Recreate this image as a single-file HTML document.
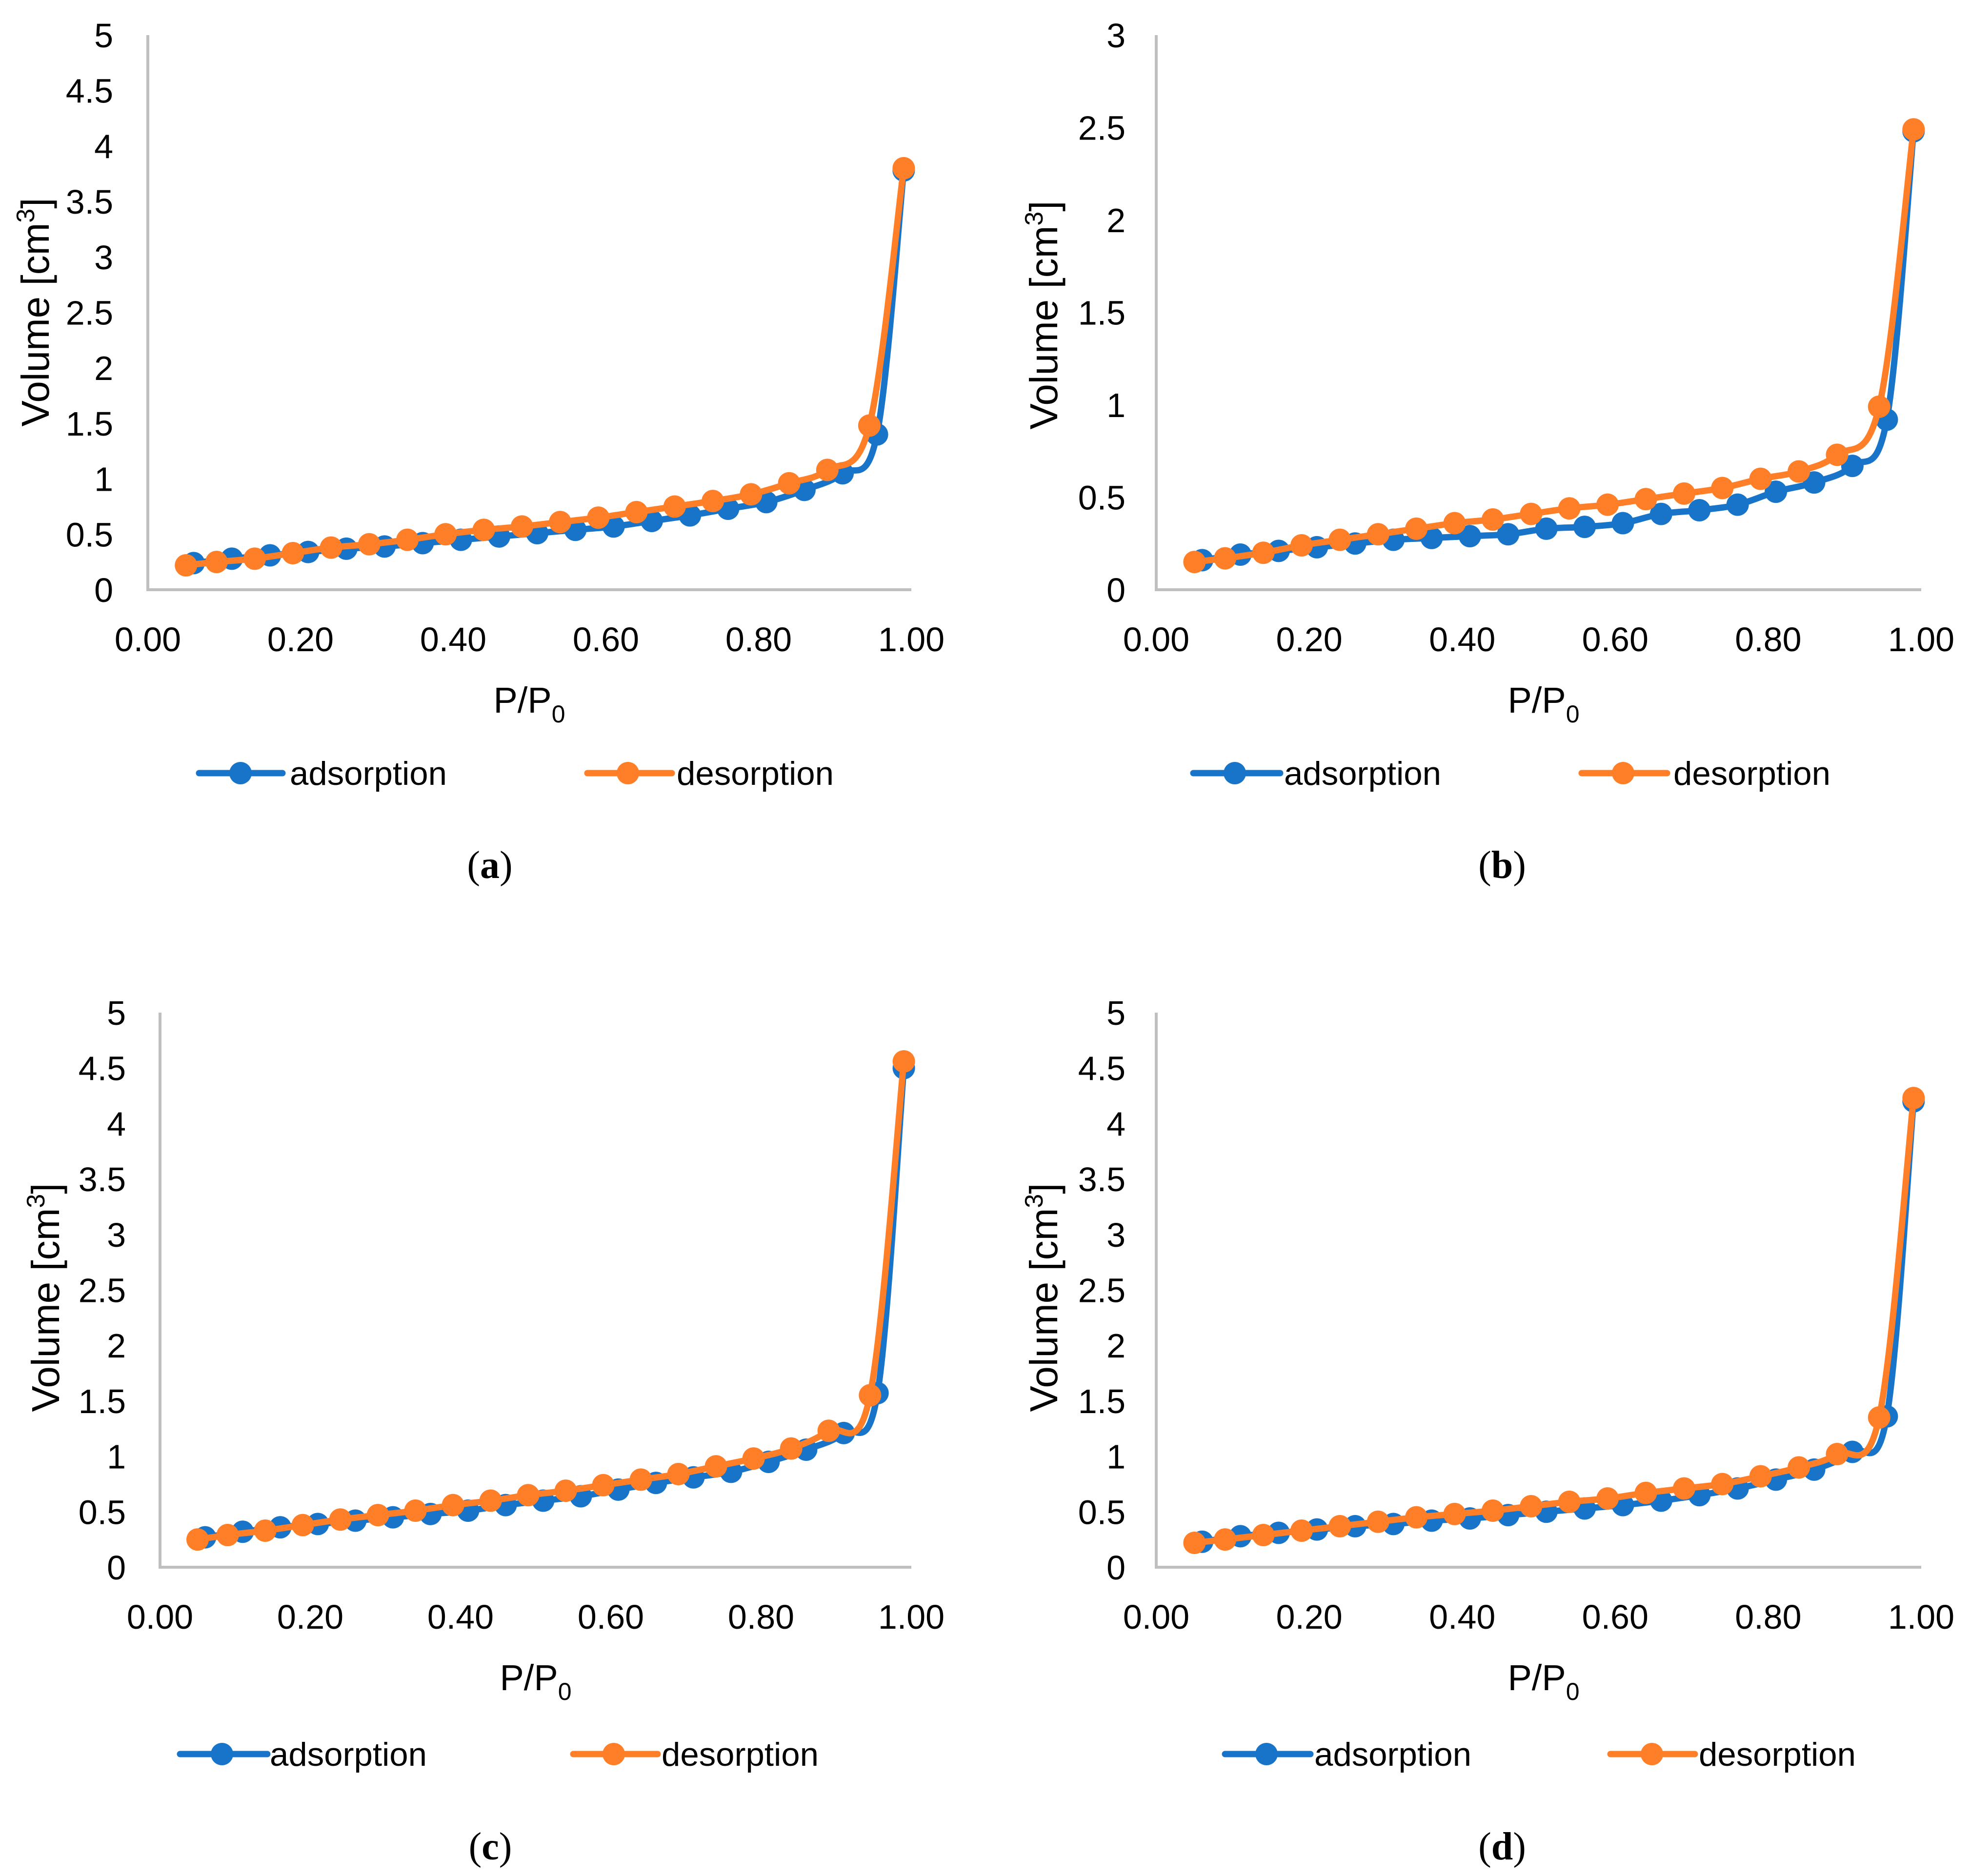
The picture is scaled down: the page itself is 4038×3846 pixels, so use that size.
<!DOCTYPE html>
<html><head><meta charset="utf-8"><style>
html,body{margin:0;padding:0;background:#fff;}
svg{display:block;}
text{font-family:"Liberation Sans",sans-serif;fill:#000;}
</style></head><body>
<svg id="fig" width="4038" height="3846" viewBox="0 0 4038 3846" xmlns="http://www.w3.org/2000/svg"></svg>
<script>
// ---- data ----
const adsX = [0.06,0.11,0.16,0.21,0.26,0.31,0.36,0.41,0.46,0.51,0.56,0.61,0.66,0.71,0.76,0.81,0.86,0.91,0.955,0.99];
const desX = [0.05,0.09,0.14,0.19,0.24,0.29,0.34,0.39,0.44,0.49,0.54,0.59,0.64,0.69,0.74,0.79,0.84,0.89,0.945,0.99];
const adsA = [0.24,0.28,0.31,0.34,0.37,0.39,0.42,0.45,0.48,0.51,0.54,0.57,0.62,0.67,0.73,0.79,0.90,1.05,1.40,3.78];
const desA = [0.22,0.25,0.28,0.33,0.38,0.41,0.45,0.50,0.54,0.57,0.61,0.65,0.70,0.75,0.80,0.86,0.96,1.08,1.48,3.80];
const adsB = [0.16,0.19,0.21,0.23,0.25,0.27,0.28,0.29,0.30,0.33,0.34,0.36,0.41,0.43,0.46,0.53,0.58,0.67,0.92,2.48];
const desB = [0.15,0.17,0.20,0.24,0.27,0.30,0.33,0.36,0.38,0.41,0.44,0.46,0.49,0.52,0.55,0.60,0.64,0.73,0.99,2.49];
const adsC = [0.27,0.32,0.36,0.39,0.42,0.45,0.48,0.51,0.56,0.60,0.64,0.70,0.76,0.81,0.86,0.95,1.06,1.21,1.57,4.50];
const desC = [0.25,0.29,0.33,0.38,0.43,0.47,0.51,0.56,0.60,0.65,0.69,0.74,0.79,0.84,0.91,0.98,1.07,1.23,1.55,4.56];
const adsD = [0.23,0.28,0.31,0.34,0.37,0.39,0.42,0.44,0.47,0.50,0.53,0.56,0.60,0.65,0.71,0.79,0.88,1.04,1.36,4.20];
const desD = [0.22,0.25,0.29,0.33,0.37,0.41,0.45,0.48,0.51,0.55,0.59,0.62,0.67,0.71,0.75,0.82,0.90,1.02,1.35,4.23];
const xTicks = ["0.00","0.20","0.40","0.60","0.80","1.00"];
const yTicks5 = ["0","0.5","1","1.5","2","2.5","3","3.5","4","4.5","5"];
const yTicks3 = ["0","0.5","1","1.5","2","2.5","3"];
const captions = ["a","b","c","d"];

const NS="http://www.w3.org/2000/svg";
const svg=document.getElementById('fig');
function mk(tag,attrs,parent){const e=document.createElementNS(NS,tag);for(const k in attrs)e.setAttribute(k,attrs[k]);(parent||svg).appendChild(e);return e;}
const BLUE="#1874c9", ORANGE="#fe7f27";

function smooth(pts){
  let d="M"+pts[0][0]+","+pts[0][1];
  for(let i=0;i<pts.length-1;i++){
    const p0=pts[i-1]||pts[i],p1=pts[i],p2=pts[i+1],p3=pts[i+2]||p2;
    const t=0.17;
    const c1=[p1[0]+(p2[0]-p0[0])*t,p1[1]+(p2[1]-p0[1])*t];
    const c2=[p2[0]-(p3[0]-p1[0])*t,p2[1]-(p3[1]-p1[1])*t];
    d+=" C"+c1[0]+","+c1[1]+" "+c2[0]+","+c2[1]+" "+p2[0]+","+p2[1];
  }
  return d;
}

const panels=[
 {id:"a",x0:303,x1:1868,y0:1209,y1:72,ymax:5,yt:yTicks5,ads:adsA,des:desA,ylx:72,yly:640,tickR:232,xt:1085,legY:1585,lb:[408,579,493,594],lo:[1204,1377,1287,1387],cap:1004,capY:1800},
 {id:"b",x0:2370,x1:3938,y0:1209,y1:72,ymax:3,yt:yTicks3,ads:adsB,des:desB,ylx:2139,yly:646,tickR:2307,xt:3164,legY:1585,lb:[2446,2624,2531,2632],lo:[3242,3417,3327,3430],cap:3079,capY:1800},
 {id:"c",x0:328,x1:1868,y0:3213,y1:2076,ymax:5,yt:yTicks5,ads:adsC,des:desC,ylx:93,yly:2660,tickR:258,xt:1098,legY:3596,lb:[369,548,455,553],lo:[1175,1348,1258,1356],cap:1005,capY:3812},
 {id:"d",x0:2370,x1:3938,y0:3213,y1:2076,ymax:5,yt:yTicks5,ads:adsD,des:desD,ylx:2139,yly:2660,tickR:2307,xt:3164,legY:3596,lb:[2511,2686,2596,2694],lo:[3301,3474,3386,3482],cap:3079,capY:3812}
];

panels.forEach((p,pi)=>{
  const g=mk('g',{});
  
  
  const sx=v=>p.x0+(p.x1-p.x0)*v;
  const sy=v=>p.y0-(p.y0-p.y1)*v/p.ymax;
  const ya=mk('line',{x1:p.x0,y1:p.y1,x2:p.x0,y2:p.y0+3,stroke:"#bfbfbf","stroke-width":6},g);
  
  
  const xa=mk('line',{x1:p.x0-3,y1:p.y0,x2:p.x1,y2:p.y0,stroke:"#bfbfbf","stroke-width":6},g);
  
  
  p.yt.forEach((t,i)=>{
    const e=mk('text',{x:p.tickR,y:sy(parseFloat(t))+25,"text-anchor":"end","font-size":70},g);
    e.textContent=t;
    
    
  });
  xTicks.forEach(t=>{
    const e=mk('text',{x:sx(parseFloat(t)),y:p.y0+126,"text-anchor":"middle","font-size":70},g);
    e.textContent=t;
    
    
  });
  const yl=mk('text',{x:0,y:0,"text-anchor":"middle","font-size":80,transform:`translate(${p.ylx+28},${p.yly}) rotate(-90)`},g);
  yl.innerHTML='Volume [cm<tspan dy="-30" font-size="52">3</tspan><tspan dy="30">]</tspan>';
  
  
  const xl=mk('text',{x:p.xt,y:p.y0+252,"text-anchor":"middle","font-size":74},g);
  xl.innerHTML='P/P<tspan dy="20" font-size="50">0</tspan>';
  
  
  [[adsX,p.ads,BLUE,'adsorption'],[desX,p.des,ORANGE,'desorption']].forEach(([xs,ys,col,nm])=>{
    const pts=xs.map((x,i)=>[sx(x),sy(ys[i])]);
    const path=mk('path',{d:smooth(pts),fill:"none",stroke:col,"stroke-width":13,"stroke-linejoin":"round"},g);
    
    
    pts.forEach(pt=>{
      const c=mk('circle',{cx:pt[0],cy:pt[1],r:23,fill:col},g);
      
      
    });
  });
  [[p.lb,BLUE,'adsorption'],[p.lo,ORANGE,'desorption']].forEach(([L,col,nm])=>{
    const lg=mk('g',{},g);
    
    
    mk('line',{x1:L[0],y1:p.legY,x2:L[1],y2:p.legY,stroke:col,"stroke-width":13,"stroke-linecap":"round"},lg);
    mk('circle',{cx:L[2],cy:p.legY,r:23,fill:col},lg);
    const t=mk('text',{x:L[3],y:p.legY+24,"font-size":68,textLength:322,lengthAdjust:"spacingAndGlyphs"},lg);
    t.textContent=nm;
  });
  const cap=mk('text',{x:p.cap,y:p.capY,"text-anchor":"middle","font-size":80,style:"font-family:'Liberation Serif',serif"},g);
  cap.innerHTML='(<tspan font-weight="bold">'+captions[pi]+'</tspan>)';
  
  
});
</script>
</body></html>
